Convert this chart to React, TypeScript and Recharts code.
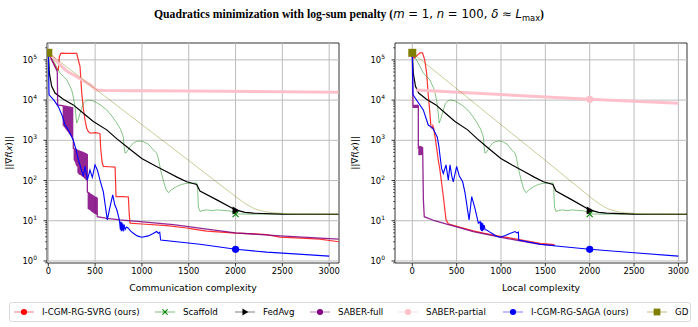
import React from 'react';
import { ComposedChart, Line, Scatter, XAxis, YAxis, ReferenceLine, ReferenceArea } from 'recharts';

type Pt = { x: number; y: number };

const FONT = 'DejaVu Sans';
const GRID = '#bcbcbc';

const xTicks = [0, 500, 1000, 1500, 2000, 2500, 3000];
const yMajor = [1, 10, 100, 1000, 10000, 100000];
const yMinorFactors = [2, 3, 4, 5, 6, 7, 8, 9];
const yDomain: [number, number] = [0.89, 263000];
const yTicks = [0.9, ...yMajor.flatMap((d) => [d, ...yMinorFactors.map((m) => m * d)])].filter(
  (v) => v >= yDomain[0] && v <= yDomain[1]
);

// ---- series shared by both panels (same in communication and local complexity)
const scaffold: Pt[] = [
  { x: 0, y: 150000 }, { x: 60, y: 90000 }, { x: 125, y: 47000 }, { x: 197, y: 32000 }, { x: 250, y: 17800 },
  { x: 270, y: 11000 }, { x: 285, y: 6900 }, { x: 303, y: 2700 }, { x: 320, y: 3300 }, { x: 339, y: 4700 },
  { x: 374, y: 8300 }, { x: 400, y: 9600 }, { x: 427, y: 10000 }, { x: 470, y: 9800 }, { x: 499, y: 9100 },
  { x: 560, y: 7500 }, { x: 624, y: 5700 }, { x: 680, y: 4000 }, { x: 731, y: 2700 }, { x: 770, y: 1900 },
  { x: 801, y: 1230 }, { x: 810, y: 700 }, { x: 819, y: 480 }, { x: 840, y: 520 }, { x: 873, y: 690 },
  { x: 910, y: 870 }, { x: 944, y: 940 }, { x: 980, y: 960 }, { x: 1015, y: 930 }, { x: 1070, y: 800 },
  { x: 1122, y: 575 }, { x: 1158, y: 480 }, { x: 1175, y: 355 }, { x: 1200, y: 180 }, { x: 1228, y: 102 },
  { x: 1255, y: 62 }, { x: 1282, y: 50 }, { x: 1320, y: 60 }, { x: 1372, y: 71 }, { x: 1420, y: 80 },
  { x: 1478, y: 85 }, { x: 1540, y: 86 }, { x: 1585, y: 87 }, { x: 1595, y: 60 }, { x: 1603, y: 22 },
  { x: 1620, y: 17 }, { x: 1650, y: 18 }, { x: 1692, y: 18.6 }, { x: 1750, y: 17.8 }, { x: 1800, y: 18.6 },
  { x: 1850, y: 18.2 }, { x: 1941, y: 17.5 }, { x: 2000, y: 14.8 }, { x: 2100, y: 14.6 }, { x: 3100, y: 14.5 },
];

const fedavg: Pt[] = [
  { x: 0, y: 150000 }, { x: 11, y: 47000 }, { x: 36, y: 22000 }, { x: 72, y: 15000 }, { x: 160, y: 10500 },
  { x: 267, y: 7600 }, { x: 374, y: 4700 }, { x: 481, y: 2950 }, { x: 624, y: 1820 }, { x: 730, y: 1100 },
  { x: 838, y: 690 }, { x: 998, y: 355 }, { x: 1130, y: 240 }, { x: 1265, y: 166 }, { x: 1380, y: 120 },
  { x: 1478, y: 93 }, { x: 1585, y: 80 }, { x: 1620, y: 55 }, { x: 1800, y: 33 }, { x: 2000, y: 18.6 },
  { x: 2100, y: 16.2 }, { x: 2190, y: 15.4 }, { x: 2500, y: 14.6 }, { x: 3100, y: 14.5 },
];

const gd: Pt[] = [
  { x: 0, y: 150000 }, { x: 1000, y: 2450 }, { x: 1500, y: 316 }, { x: 1800, y: 91 }, { x: 2000, y: 40 },
  { x: 2100, y: 27 }, { x: 2200, y: 20 }, { x: 2300, y: 17 }, { x: 2400, y: 15.8 }, { x: 2600, y: 14.8 },
  { x: 3100, y: 14.5 },
];

// ---- communication complexity panel
const svrgComm: Pt[] = [
  { x: 0, y: 150000 }, { x: 96, y: 56000 }, { x: 107, y: 56000 }, { x: 118, y: 120000 }, { x: 135, y: 147000 },
  { x: 200, y: 146000 }, { x: 303, y: 145000 }, { x: 320, y: 100000 }, { x: 339, y: 68000 }, { x: 357, y: 15000 },
  { x: 375, y: 6000 }, { x: 392, y: 3200 }, { x: 410, y: 2000 }, { x: 427, y: 1650 }, { x: 450, y: 1500 },
  { x: 500, y: 1550 }, { x: 540, y: 1500 }, { x: 552, y: 1450 }, { x: 560, y: 600 }, { x: 575, y: 280 },
  { x: 588, y: 224 }, { x: 650, y: 220 }, { x: 713, y: 215 }, { x: 718, y: 100 }, { x: 723, y: 40 },
  { x: 800, y: 40 }, { x: 855, y: 39 }, { x: 864, y: 15 }, { x: 873, y: 8.7 }, { x: 1000, y: 8.3 },
  { x: 1265, y: 7.6 }, { x: 1478, y: 6.6 }, { x: 1550, y: 6.2 }, { x: 1692, y: 5.5 }, { x: 2000, y: 4.9 },
  { x: 2200, y: 4.7 }, { x: 2330, y: 4.5 }, { x: 2475, y: 3.9 }, { x: 2700, y: 3.7 }, { x: 2900, y: 3.5 },
  { x: 3100, y: 3.0 },
];

const saberFullComm: Pt[] = [
  { x: 0, y: 150000 }, { x: 96, y: 51000 }, { x: 100, y: 7600 }, { x: 160, y: 7200 },
  { x: 160, y: 2400 }, { x: 170, y: 2250 }, { x: 170, y: 7100 }, { x: 180, y: 7050 }, { x: 180, y: 2100 },
  { x: 190, y: 1950 }, { x: 190, y: 7000 }, { x: 200, y: 6900 }, { x: 200, y: 1800 }, { x: 210, y: 1700 },
  { x: 210, y: 6850 }, { x: 220, y: 6800 }, { x: 220, y: 1550 }, { x: 230, y: 1450 }, { x: 230, y: 6700 },
  { x: 240, y: 6650 }, { x: 240, y: 1350 }, { x: 250, y: 1250 }, { x: 250, y: 6550 }, { x: 260, y: 6450 },
  { x: 260, y: 1150 }, { x: 267, y: 1050 }, { x: 267, y: 630 }, { x: 277, y: 615 }, { x: 277, y: 330 },
  { x: 287, y: 300 }, { x: 287, y: 600 }, { x: 297, y: 590 }, { x: 297, y: 260 }, { x: 307, y: 230 },
  { x: 307, y: 575 }, { x: 317, y: 560 }, { x: 317, y: 160 }, { x: 327, y: 150 }, { x: 327, y: 545 },
  { x: 337, y: 535 }, { x: 337, y: 145 }, { x: 347, y: 140 }, { x: 347, y: 525 }, { x: 357, y: 515 },
  { x: 357, y: 135 }, { x: 367, y: 130 }, { x: 367, y: 505 }, { x: 377, y: 495 }, { x: 377, y: 125 },
  { x: 387, y: 118 }, { x: 387, y: 480 }, { x: 397, y: 470 }, { x: 397, y: 112 }, { x: 407, y: 106 },
  { x: 407, y: 455 }, { x: 417, y: 440 }, { x: 417, y: 100 }, { x: 417, y: 52 }, { x: 427, y: 50 },
  { x: 427, y: 20 }, { x: 437, y: 19.5 }, { x: 437, y: 49 }, { x: 447, y: 47 }, { x: 447, y: 19 },
  { x: 457, y: 18 }, { x: 457, y: 45 }, { x: 467, y: 44 }, { x: 467, y: 17 }, { x: 477, y: 16.5 },
  { x: 477, y: 42 }, { x: 487, y: 41 }, { x: 487, y: 16 }, { x: 497, y: 15.5 }, { x: 497, y: 39 },
  { x: 507, y: 38 }, { x: 507, y: 15 }, { x: 517, y: 14.5 }, { x: 517, y: 37 }, { x: 523, y: 36 },
  { x: 523, y: 12.6 }, { x: 624, y: 11.5 }, { x: 766, y: 10.5 }, { x: 980, y: 9.5 }, { x: 1335, y: 8.0 },
  { x: 1495, y: 7.1 }, { x: 1692, y: 6.2 }, { x: 2000, y: 5.0 }, { x: 2475, y: 4.2 }, { x: 3100, y: 3.5 },
];

const saberPartialComm: Pt[] = [
  { x: 0, y: 150000 }, { x: 60, y: 110000 }, { x: 125, y: 75000 }, { x: 200, y: 52000 }, { x: 303, y: 38000 },
  { x: 380, y: 30000 }, { x: 445, y: 24000 }, { x: 517, y: 17800 }, { x: 600, y: 17300 }, { x: 1500, y: 16800 },
  { x: 2500, y: 16200 }, { x: 3100, y: 15700 },
];

const sagaComm: Pt[] = [
  { x: 0, y: 150000 }, { x: 8, y: 13500 }, { x: 60, y: 10000 }, { x: 107, y: 6900 }, { x: 150, y: 4000 },
  { x: 178, y: 2400 }, { x: 197, y: 2100 }, { x: 215, y: 1800 }, { x: 232, y: 1500 }, { x: 267, y: 1000 },
  { x: 295, y: 600 }, { x: 321, y: 330 }, { x: 350, y: 200 }, { x: 374, y: 127 }, { x: 392, y: 224 },
  { x: 417, y: 102 }, { x: 445, y: 182 }, { x: 470, y: 120 }, { x: 499, y: 245 }, { x: 525, y: 180 },
  { x: 552, y: 102 }, { x: 588, y: 52 }, { x: 630, y: 10.5 }, { x: 659, y: 22 }, { x: 688, y: 44 },
  { x: 710, y: 25 }, { x: 731, y: 19 }, { x: 759, y: 10.5 }, { x: 770, y: 6 }, { x: 775, y: 9.5 },
  { x: 780, y: 5.5 }, { x: 785, y: 9 }, { x: 790, y: 5.8 }, { x: 795, y: 8.5 }, { x: 800, y: 5.4 },
  { x: 810, y: 8 }, { x: 820, y: 6 }, { x: 835, y: 7 }, { x: 855, y: 6.5 }, { x: 880, y: 5.5 },
  { x: 908, y: 4.9 }, { x: 950, y: 4.2 }, { x: 998, y: 3.9 }, { x: 1068, y: 4.2 }, { x: 1120, y: 4.8 },
  { x: 1158, y: 5.4 }, { x: 1175, y: 4.9 }, { x: 1190, y: 5.2 }, { x: 1200, y: 3.3 }, { x: 1620, y: 2.6 },
  { x: 2002, y: 1.95 }, { x: 2333, y: 1.66 }, { x: 3000, y: 1.32 },
];

// ---- local complexity panel
const svrgLocal: Pt[] = [
  { x: 0, y: 150000 }, { x: 20, y: 110000 }, { x: 87, y: 150000 }, { x: 115, y: 150000 }, { x: 140, y: 100000 },
  { x: 162, y: 47000 }, { x: 178, y: 15000 }, { x: 192, y: 6900 }, { x: 211, y: 2100 }, { x: 225, y: 2000 },
  { x: 232, y: 2300 }, { x: 240, y: 2000 }, { x: 260, y: 1100 }, { x: 293, y: 320 }, { x: 312, y: 180 },
  { x: 350, y: 40 }, { x: 380, y: 10.5 }, { x: 406, y: 8.4 }, { x: 500, y: 7.3 }, { x: 688, y: 5.6 },
  { x: 801, y: 4.9 }, { x: 989, y: 4.1 }, { x: 1177, y: 3.5 }, { x: 1440, y: 2.75 }, { x: 1600, y: 2.55 },
];

const saberFullLocal: Pt[] = [
  { x: 0, y: 150000 }, { x: 8, y: 6900 }, { x: 10, y: 7400 }, { x: 10, y: 6600 }, { x: 20, y: 6600 },
  { x: 20, y: 7400 }, { x: 30, y: 7400 }, { x: 30, y: 6600 }, { x: 40, y: 6600 }, { x: 40, y: 7400 },
  { x: 50, y: 7400 }, { x: 50, y: 6600 }, { x: 60, y: 6600 }, { x: 60, y: 7400 }, { x: 68, y: 7200 },
  { x: 68, y: 620 }, { x: 75, y: 700 }, { x: 75, y: 440 }, { x: 85, y: 440 }, { x: 85, y: 700 },
  { x: 95, y: 690 }, { x: 95, y: 450 }, { x: 105, y: 450 }, { x: 105, y: 680 }, { x: 116, y: 660 },
  { x: 118, y: 420 }, { x: 125, y: 33 }, { x: 135, y: 12.6 }, { x: 250, y: 10.0 }, { x: 388, y: 8.3 },
  { x: 500, y: 7.0 }, { x: 688, y: 5.4 }, { x: 989, y: 3.9 }, { x: 1200, y: 3.2 }, { x: 1440, y: 2.6 },
  { x: 1609, y: 2.45 },
];

const saberPartialLocal: Pt[] = [
  { x: 45, y: 17800 }, { x: 2000, y: 10500 }, { x: 3000, y: 8300 },
];

const sagaLocal: Pt[] = [
  { x: 0, y: 150000 }, { x: 8, y: 13500 }, { x: 124, y: 5700 }, { x: 180, y: 2400 }, { x: 219, y: 2100 },
  { x: 237, y: 1900 }, { x: 260, y: 1500 }, { x: 282, y: 1200 }, { x: 300, y: 700 }, { x: 312, y: 420 },
  { x: 330, y: 200 }, { x: 350, y: 150 }, { x: 380, y: 245 }, { x: 406, y: 102 }, { x: 425, y: 245 },
  { x: 445, y: 130 }, { x: 462, y: 93 }, { x: 500, y: 224 }, { x: 530, y: 130 }, { x: 568, y: 93 },
  { x: 594, y: 50 }, { x: 640, y: 10.5 }, { x: 670, y: 40 }, { x: 707, y: 20 }, { x: 745, y: 8.7 },
  { x: 765, y: 9.5 }, { x: 770, y: 6 }, { x: 775, y: 9.2 }, { x: 780, y: 5.6 }, { x: 785, y: 9 },
  { x: 790, y: 5.5 }, { x: 795, y: 8.5 }, { x: 800, y: 5.8 }, { x: 810, y: 7.8 }, { x: 820, y: 6 },
  { x: 839, y: 5.9 }, { x: 870, y: 5.3 }, { x: 900, y: 4.8 }, { x: 950, y: 4.1 }, { x: 989, y: 3.9 },
  { x: 1050, y: 4.3 }, { x: 1100, y: 4.8 }, { x: 1158, y: 5.4 }, { x: 1180, y: 5.0 }, { x: 1196, y: 5.2 },
  { x: 1200, y: 3.3 }, { x: 1440, y: 2.6 }, { x: 1620, y: 2.35 }, { x: 2000, y: 1.95 }, { x: 2500, y: 1.6 },
  { x: 3000, y: 1.32 },
];

// ---- markers
const gdMarks: Pt[] = [{ x: 0, y: 150000 }];
const fedavgMarks: Pt[] = [{ x: 2000, y: 18 }];
const scaffoldMarks: Pt[] = [{ x: 2000, y: 14.6 }];
const sagaMarks: Pt[] = [{ x: 2000, y: 1.95 }];
const saberPartialLocalMarks: Pt[] = [{ x: 2000, y: 10500 }];

const legendItems = [
  { label: 'I-CGM-RG-SVRG (ours)', color: '#ff0000', shape: 'circle', x: 24 },
  { label: 'Scaffold', color: '#008000', shape: 'x', x: 165 },
  { label: 'FedAvg', color: '#000000', shape: 'tri', x: 245 },
  { label: 'SABER-full', color: '#800080', shape: 'circle', x: 320 },
  { label: 'SABER-partial', color: '#ffc0cb', shape: 'circle', x: 408 },
  { label: 'I-CGM-RG-SAGA (ours)', color: '#0000ff', shape: 'circle', x: 513 },
  { label: 'GD', color: '#808000', shape: 'square', x: 657 },
];

type SeriesDef = { key: string; data: Pt[]; color: string; width: number; opacity: number };
type MarkDef = { key: string; data: Pt[]; shape: string; color: string };

const Marker = ({ cx, cy, shape, color, s = 1 }: { cx: number; cy: number; shape: string; color: string; s?: number }) => {
  if (cx == null || cy == null) return null;
  if (shape === 'square') return <rect x={cx - 4 * s} y={cy - 4 * s} width={8 * s} height={8 * s} fill={color} />;
  if (shape === 'tri')
    return <polygon points={`${cx + 4 * s},${cy} ${cx - 3 * s},${cy - 4 * s} ${cx - 3 * s},${cy + 4 * s}`} fill={color} />;
  if (shape === 'x')
    return (
      <g stroke={color} strokeWidth={1.1}>
        <line x1={cx - 3 * s} y1={cy - 3 * s} x2={cx + 3 * s} y2={cy + 3 * s} />
        <line x1={cx - 3 * s} y1={cy + 3 * s} x2={cx + 3 * s} y2={cy - 3 * s} />
      </g>
    );
  return <circle cx={cx} cy={cy} r={3.6 * s} fill={color} />;
};

const LogTick = (props: any) => {
  const { x, y, payload } = props;
  const v = payload.value as number;
  const e = Math.round(Math.log10(v));
  const major = Math.abs(Math.log10(v) - e) < 1e-6;
  return (
    <g>
      <line x1={x - (major ? 3.5 : 2)} x2={x} y1={y} y2={y} stroke="#000" strokeWidth={major ? 0.8 : 0.6} />
      {major && (
        <text x={x - 10} y={y + 3} textAnchor="end" fontSize={8.4} fontFamily={FONT} fill="#000">
          10
          <tspan dy={-4} fontSize={6}>
            {e}
          </tspan>
        </text>
      )}
    </g>
  );
};

const Panel = ({
  left,
  yAxisWidth,
  marginRight,
  xDomain,
  xLabel,
  series,
  marks,
}: {
  left: number;
  yAxisWidth: number;
  marginRight: number;
  xDomain: [number, number];
  xLabel: string;
  series: SeriesDef[];
  marks: MarkDef[];
}) => (
  <div style={{ position: 'absolute', left, top: 0 }}>
    <ComposedChart width={349} height={300} margin={{ top: 43, right: marginRight, bottom: 7, left: 0 }}>
      <XAxis
        type="number"
        dataKey="x"
        domain={xDomain}
        allowDataOverflow
        ticks={xTicks}
        interval={0}
        tickSize={3.5}
        tickMargin={2}
        axisLine={false}
        tickLine={{ stroke: '#000', strokeWidth: 0.8 }}
        tick={{ fontSize: 8.4, fill: '#000', fontFamily: FONT }}
        height={30}
        label={{ value: xLabel, position: 'insideBottom', offset: 2, fontSize: 9.3, fill: '#000', fontFamily: FONT }}
      />
      <YAxis
        type="number"
        dataKey="y"
        scale="log"
        domain={yDomain}
        allowDataOverflow
        ticks={yTicks}
        interval={0}
        tickSize={0}
        tickMargin={0}
        axisLine={false}
        tickLine={false}
        tick={(p: any) => <LogTick {...p} />}
        width={yAxisWidth}
      />
      {yMajor.map((v) => (
        <ReferenceLine key={'h' + v} y={v} stroke={GRID} strokeWidth={1} />
      ))}
      {xTicks.map((v) => (
        <ReferenceLine key={'v' + v} x={v} stroke={GRID} strokeWidth={1} />
      ))}
      {series.map((s) => (
        <Line
          key={s.key}
          data={s.data}
          dataKey="y"
          type="linear"
          stroke={s.color}
          strokeWidth={s.width}
          strokeOpacity={s.opacity}
          dot={false}
          activeDot={false}
          isAnimationActive={false}
        />
      ))}
      {marks.map((m) => (
        <Scatter
          key={m.key}
          data={m.data}
          isAnimationActive={false}
          shape={(p: any) => <Marker cx={p.cx} cy={p.cy} shape={m.shape} color={m.color} />}
        />
      ))}
      <ReferenceArea
        x1={xDomain[0]}
        x2={xDomain[1]}
        y1={yDomain[0]}
        y2={yDomain[1]}
        fill="none"
        stroke="#000"
        strokeWidth={0.8}
        ifOverflow="visible"
      />
    </ComposedChart>
  </div>
);

const commSeries: SeriesDef[] = [
  { key: 'svrg', data: svrgComm, color: '#ff0000', width: 1.2, opacity: 0.8 },
  { key: 'scaffold', data: scaffold, color: '#008000', width: 0.8, opacity: 0.6 },
  { key: 'fedavg', data: fedavg, color: '#000000', width: 1.2, opacity: 1 },
  { key: 'saberFull', data: saberFullComm, color: '#800080', width: 1.3, opacity: 0.85 },
  { key: 'saberPartial', data: saberPartialComm, color: '#ffc0cb', width: 3, opacity: 1 },
  { key: 'saga', data: sagaComm, color: '#0000ff', width: 1.1, opacity: 1 },
  { key: 'gd', data: gd, color: '#808000', width: 0.8, opacity: 0.5 },
];

const localSeries: SeriesDef[] = [
  { key: 'svrg', data: svrgLocal, color: '#ff0000', width: 1.2, opacity: 0.8 },
  { key: 'scaffold', data: scaffold, color: '#008000', width: 0.8, opacity: 0.6 },
  { key: 'fedavg', data: fedavg, color: '#000000', width: 1.2, opacity: 1 },
  { key: 'saberFull', data: saberFullLocal, color: '#800080', width: 1.3, opacity: 0.85 },
  { key: 'saberPartial', data: saberPartialLocal, color: '#ffc0cb', width: 3, opacity: 1 },
  { key: 'saga', data: sagaLocal, color: '#0000ff', width: 1.1, opacity: 1 },
  { key: 'gd', data: gd, color: '#808000', width: 0.8, opacity: 0.5 },
];

const commMarks: MarkDef[] = [
  { key: 'm-scaffold', data: scaffoldMarks, shape: 'x', color: '#008000' },
  { key: 'm-fedavg', data: fedavgMarks, shape: 'tri', color: '#000000' },
  { key: 'm-saga', data: sagaMarks, shape: 'circle', color: '#0000ff' },
  { key: 'm-gd', data: gdMarks, shape: 'square', color: '#808000' },
];

const localMarks: MarkDef[] = [
  { key: 'm-scaffold', data: scaffoldMarks, shape: 'x', color: '#008000' },
  { key: 'm-fedavg', data: fedavgMarks, shape: 'tri', color: '#000000' },
  { key: 'm-partial', data: saberPartialLocalMarks, shape: 'circle', color: '#ffc0cb' },
  { key: 'm-saga', data: sagaMarks, shape: 'circle', color: '#0000ff' },
  { key: 'm-gd', data: gdMarks, shape: 'square', color: '#808000' },
];

const YLabel = ({ x }: { x: number }) => (
  <text transform={`translate(${x},153) rotate(-90)`} textAnchor="middle" fontSize={9} fontFamily={FONT} fill="#000">
    ||∇<tspan fontStyle="italic">f</tspan>(<tspan fontStyle="italic">x</tspan>)||
  </text>
);

export default function App() {
  return (
    <div style={{ position: 'absolute', left: 0, top: 0, width: 698, height: 327, background: '#fff' }}>
      <Panel
        left={0}
        yAxisWidth={47}
        marginRight={10}
        xDomain={[-14, 3105]}
        xLabel="Communication complexity"
        series={commSeries}
        marks={commMarks}
      />
      <Panel
        left={349}
        yAxisWidth={46}
        marginRight={11}
        xDomain={[-195, 3097]}
        xLabel="Local complexity"
        series={localSeries}
        marks={localMarks}
      />
      <svg width={698} height={327} style={{ position: 'absolute', left: 0, top: 0, pointerEvents: 'none' }}>
        <text x={349} y={18} textAnchor="middle" fontSize={11.7} fill="#000">
          <tspan fontFamily="Liberation Serif" fontWeight="bold">
            Quadratics minimization with log-sum penalty (
          </tspan>
          <tspan fontFamily={FONT} fontStyle="italic">m</tspan>
          <tspan fontFamily={FONT}> = 1, </tspan>
          <tspan fontFamily={FONT} fontStyle="italic">n</tspan>
          <tspan fontFamily={FONT}> = 100, </tspan>
          <tspan fontFamily={FONT} fontStyle="italic">δ</tspan>
          <tspan fontFamily={FONT}> ≈ </tspan>
          <tspan fontFamily={FONT} fontStyle="italic">L</tspan>
          <tspan fontFamily={FONT} fontSize={8.3} dy={3}>max</tspan>
          <tspan fontFamily="Liberation Serif" fontWeight="bold" dy={-3}>)</tspan>
        </text>
        <YLabel x={12} />
        <YLabel x={358} />
        <rect x={9.5} y={302.5} width={681} height={19} rx={2} fill="#fff" stroke="#d0d0d0" strokeWidth={0.8} />
        {legendItems.map((it) => (
          <g key={it.label}>
            <line x1={it.x - 10} x2={it.x + 10} y1={312} y2={312} stroke={it.color} strokeOpacity={0.5} strokeWidth={1} />
            <Marker cx={it.x} cy={312} shape={it.shape} color={it.color} s={0.85} />
            <text x={it.x + 18} y={315} fontSize={8.7} fontFamily={FONT} fill="#000">
              {it.label}
            </text>
          </g>
        ))}
      </svg>
    </div>
  );
}
